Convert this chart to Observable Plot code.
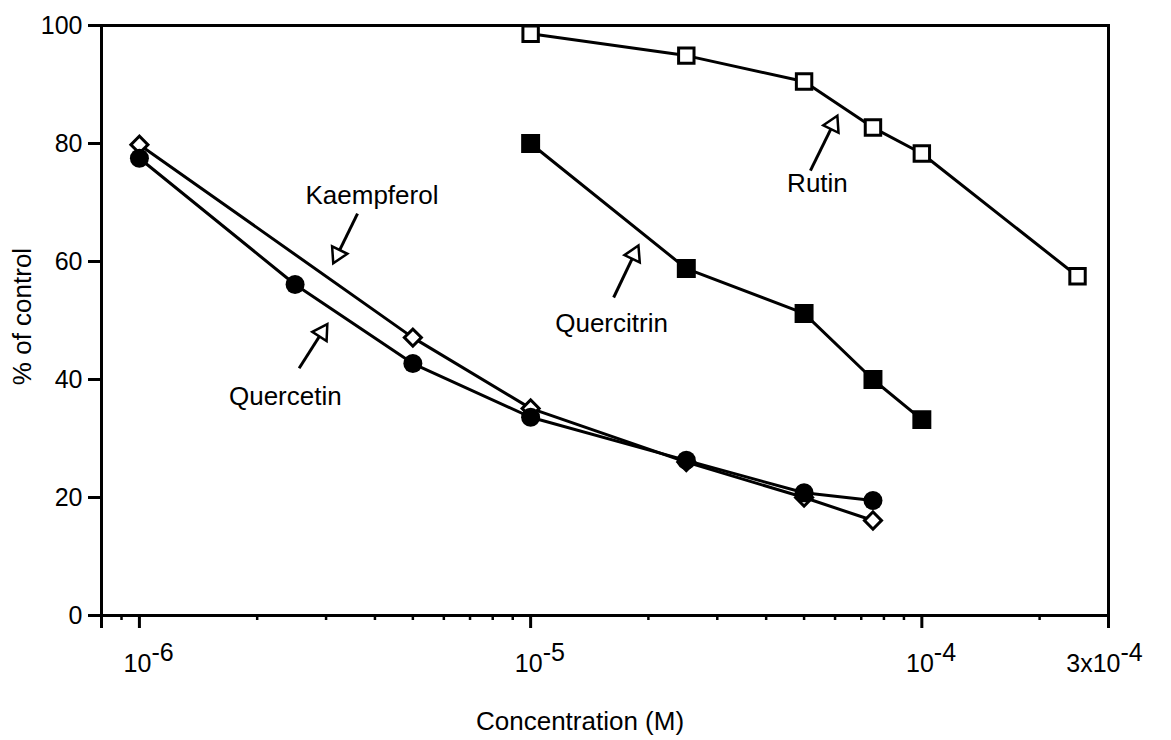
<!DOCTYPE html>
<html>
<head>
<meta charset="utf-8">
<script src="https://cdn.jsdelivr.net/npm/d3@7"></script>
<script src="https://cdn.jsdelivr.net/npm/@observablehq/plot@0.6"></script>
<style>
  html, body { margin: 0; padding: 0; background: white; }
</style>
</head>
<body>
<div id="chart"></div>
<script>
// ---- Data ----
const quercetinConc = [1e-6, 2.5e-6, 5e-6, 1e-5, 2.5e-5, 5e-5, 7.5e-5];
const quercetinPct  = [77.5, 56.1, 42.7, 33.6, 26.3, 20.8, 19.5];

const kaempferolConc = [1e-6, 5e-6, 1e-5, 2.5e-5, 5e-5, 7.5e-5];
const kaempferolPct  = [79.8, 47.1, 35.1, 26.0, 20.0, 16.1];

const quercitrinConc = [1e-5, 2.5e-5, 5e-5, 7.5e-5, 1e-4];
const quercitrinPct  = [80.0, 58.8, 51.2, 40.0, 33.2];

const rutinConc = [1e-5, 2.5e-5, 5e-5, 7.5e-5, 1e-4, 2.5e-4];
const rutinPct  = [98.6, 94.9, 90.5, 82.7, 78.3, 57.5];

// Axis ticks and labels
const xDomain = [8e-7, 3e-4];
const yDomain = [0, 100];
const yTicks = [0, 20, 40, 60, 80, 100];
const xMajorTicks = [8e-7, 1e-6, 1e-5, 1e-4, 3e-4];
const xMinorTicks = [9e-7, 2e-6, 3e-6, 4e-6, 5e-6, 6e-6, 7e-6, 8e-6, 9e-6,
                     2e-5, 3e-5, 4e-5, 5e-5, 6e-5, 7e-5, 8e-5, 9e-5, 2e-4];
const xLabelTicks = [1e-6, 1e-5, 1e-4, 3e-4];
const xLabelBases = ["10", "10", "10", "3x10"];
const xLabelExps  = ["-6", "-5", "-4", "-4"];

// Annotations (label + arrow), in data coordinates
const annoNames  = ["Kaempferol", "Quercetin", "Quercitrin", "Rutin"];
const annoTextX  = [3.93e-6, 2.36e-6, 1.61e-5, 5.41e-5];
const annoTextY  = [71.2, 37.1, 49.5, 73.2];
const arrowTailX = [3.61e-6, 2.56e-6, 1.63e-5, 5.19e-5];
const arrowTailY = [68.1, 41.9, 53.9, 75.4];
const arrowHeadX = [3.21e-6, 2.93e-6, 1.84e-5, 5.93e-5];
const arrowHeadY = [61.2, 48.0, 61.2, 83.2];

const xTitle = "Concentration (M)";
const yTitle = "% of control";

// ---- Build ----
const W = 1171, H = 740;
const mL = 101, mR = 63, mT = 25, mB = 125;
const FONT = "'Liberation Sans', Arial, Helvetica, sans-serif";

const toRows = (xs, ys) => xs.map((c, i) => ({c, v: ys[i]}));
const quercetin = toRows(quercetinConc, quercetinPct);
const kaempferol = toRows(kaempferolConc, kaempferolPct);
const quercitrin = toRows(quercitrinConc, quercitrinPct);
const rutin = toRows(rutinConc, rutinPct);

const sx = Plot.scale({x: {type: "log", domain: xDomain, range: [mL, W - mR]}});
const sy = Plot.scale({y: {type: "linear", domain: yDomain, range: [H - mB, mT]}});

const annos = annoNames.map((name, i) => {
  const dx = sx.apply(arrowHeadX[i]) - sx.apply(arrowTailX[i]);
  const dy = sy.apply(arrowHeadY[i]) - sy.apply(arrowTailY[i]);
  return {
    name, tx: annoTextX[i], ty: annoTextY[i],
    x1: arrowTailX[i], y1: arrowTailY[i],
    x2: arrowHeadX[i], y2: arrowHeadY[i],
    angle: Math.atan2(dx, -dy) * 180 / Math.PI
  };
});

const xLabels = xLabelTicks.map((t, i) => ({t, base: xLabelBases[i], exp: xLabelExps[i]}));

const LW = 3;

const chart = Plot.plot({
  width: W, height: H,
  marginLeft: mL, marginRight: mR, marginTop: mT, marginBottom: mB,
  style: {fontFamily: FONT, fontSize: "25px", color: "black", background: "white"},
  x: {type: "log", domain: xDomain},
  y: {type: "linear", domain: yDomain},
  marks: [
    Plot.axisY(yTicks, {tickSize: 13, tickPadding: 6, strokeWidth: LW, fontSize: 25, label: null}),
    Plot.axisX(xMajorTicks, {tickSize: 13, tickFormat: () => "", strokeWidth: LW, label: null}),
    Plot.axisX(xMinorTicks, {tickSize: 5, tickFormat: () => "", strokeWidth: 2.5, label: null}),
    Plot.frame({stroke: "black", strokeWidth: LW}),

    // x tick labels with superscript exponents
    Plot.text(xLabels, {x: "t", text: "base", frameAnchor: "bottom", textAnchor: "end",
      lineAnchor: "bottom", dx: 12, dy: 56, fontSize: 25}),
    Plot.text(xLabels, {x: "t", text: "exp", frameAnchor: "bottom", textAnchor: "start",
      lineAnchor: "bottom", dx: 12, dy: 45, fontSize: 25}),

    // axis titles
    Plot.text([xTitle], {frameAnchor: "bottom", text: d => d, textAnchor: "middle",
      lineAnchor: "bottom", dx: -25, dy: 114, fontSize: 26}),
    Plot.text([yTitle], {frameAnchor: "left", text: d => d, rotate: -90, textAnchor: "middle",
      lineAnchor: "middle", dx: -79, dy: -4, fontSize: 26}),

    // Kaempferol (open diamonds)
    Plot.line(kaempferol, {x: "c", y: "v", stroke: "black", strokeWidth: LW}),
    Plot.dot(kaempferol, {x: "c", y: "v", symbol: "square", rotate: 45, r: 6.8,
      fill: "white", stroke: "black", strokeWidth: LW}),

    // Quercetin (filled circles)
    Plot.line(quercetin, {x: "c", y: "v", stroke: "black", strokeWidth: LW}),
    Plot.dot(quercetin, {x: "c", y: "v", symbol: "circle", r: 9.5, fill: "black", stroke: "none"}),

    // Quercitrin (filled squares)
    Plot.line(quercitrin, {x: "c", y: "v", stroke: "black", strokeWidth: LW}),
    Plot.dot(quercitrin, {x: "c", y: "v", symbol: "square", r: 9, fill: "black",
      stroke: "black", strokeWidth: LW}),

    // Rutin (open squares)
    Plot.line(rutin, {x: "c", y: "v", stroke: "black", strokeWidth: LW}),
    Plot.dot(rutin, {x: "c", y: "v", symbol: "square", r: 8.7, fill: "white",
      stroke: "black", strokeWidth: LW}),

    // annotation arrows
    Plot.link(annos, {x1: "x1", y1: "y1", x2: "x2", y2: "y2", stroke: "black", strokeWidth: LW}),
    Plot.dot(annos, {x: "x2", y: "y2", symbol: "triangle", rotate: "angle", r: 6.3,
      fill: "white", stroke: "black", strokeWidth: 2.5}),
    Plot.text(annos, {x: "tx", y: "ty", text: "name", fontSize: 26, textAnchor: "middle",
      lineAnchor: "middle"})
  ]
});

document.getElementById("chart").appendChild(chart);
</script>
</body>
</html>
